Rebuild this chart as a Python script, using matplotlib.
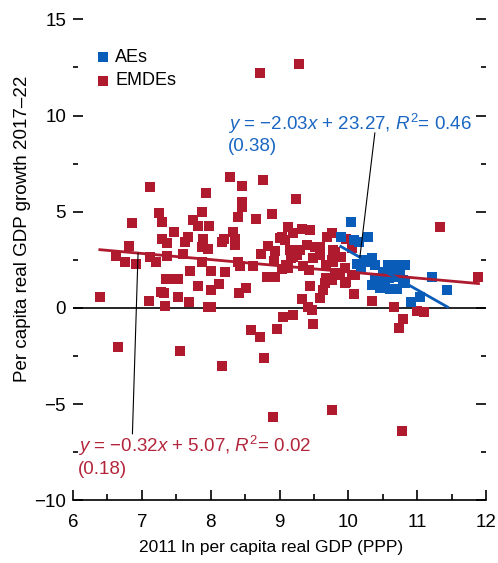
import numpy as np
import matplotlib
matplotlib.use("Agg")
import matplotlib.pyplot as plt

plt.rcParams["font.family"] = ["Liberation Sans", "DejaVu Sans"]
plt.rcParams["mathtext.fontset"] = "custom"
plt.rcParams["mathtext.rm"] = "Liberation Sans"
plt.rcParams["mathtext.it"] = "Liberation Sans:italic"

# AEs: 2011 ln per capita GDP, growth 2017-22
ae_x = [10.04, 9.89, 10.08, 10.15, 10.29, 11.22, 11.44, 10.91, 11.04, 10.19,
        10.26, 10.35, 10.39, 10.34, 10.39, 10.48, 10.58, 10.70, 10.82, 10.59,
        10.70, 10.80, 10.53, 10.60, 10.70, 10.82, 10.51, 10.63, 10.75, 10.22,
        10.46, 10.12]
ae_y = [4.49, 3.71, 3.54, 3.45, 3.66, 1.63, 0.94, 0.33, 0.59, 2.06,
        2.41, 2.58, 2.24, 1.20, 1.54, 1.11, 2.24, 2.24, 2.24, 1.54,
        1.63, 1.46, 1.37, 0.97, 0.97, 1.28, 1.89, 1.89, 1.89, 2.50,
        1.02, 2.30]

# EMDEs
em_x = [9.28, 8.71, 7.12, 7.93, 8.28, 8.46, 8.76, 9.24, 8.46, 8.45,
        8.40, 8.66, 8.89, 7.25, 7.29, 6.85, 7.46, 7.74, 7.81, 7.87,
        7.97, 7.29, 7.37, 7.62, 7.67, 7.89, 7.87, 7.96, 8.16, 8.20,
        8.33, 8.35, 8.35, 6.81, 6.63, 6.76, 6.92, 7.12, 7.21, 7.36,
        7.60, 7.87, 7.70, 8.01, 8.21, 8.39, 8.43, 8.62, 8.73, 8.83,
        8.93, 8.92, 8.82, 8.93, 9.00, 7.35, 7.43, 7.52, 7.81, 8.12,
        8.01, 8.51, 8.41, 7.28, 7.32, 6.39, 7.10, 7.33, 7.52, 7.68,
        7.96, 8.00, 9.05, 8.58, 8.71, 8.96, 6.65, 7.55, 8.77, 8.17,
        8.90, 9.76, 10.78, 10.73, 11.33, 11.89, 10.99, 11.10, 10.67, 10.79,
        10.34, 10.08, 9.44, 9.32, 9.59, 9.42, 9.47, 9.19, 9.48, 9.63,
        9.66, 9.68, 9.95, 9.12, 9.03, 9.20, 9.33, 9.44, 9.08, 9.40,
        9.51, 9.59, 9.69, 9.76, 9.15, 9.30, 9.78, 9.03, 9.13, 9.17,
        9.25, 9.34, 9.43, 9.49, 9.59, 9.80, 9.78, 9.95, 9.97, 10.05,
        10.06, 9.97, 9.90, 9.76, 9.68, 9.80, 9.88, 10.09, 9.76, 9.20,
        9.10]
em_y = [12.69, 12.20, 6.26, 5.98, 6.78, 6.31, 6.66, 5.64, 5.48, 5.22,
        4.75, 4.64, 4.87, 4.92, 4.49, 4.40, 3.97, 4.58, 4.28, 4.98,
        4.28, 3.57, 3.36, 3.43, 3.66, 3.59, 3.14, 3.05, 3.42, 3.57,
        3.92, 3.57, 3.28, 3.24, 2.72, 2.36, 2.29, 2.62, 2.36, 2.72,
        2.79, 2.36, 1.94, 1.92, 1.89, 2.36, 2.18, 2.18, 2.81, 3.22,
        2.98, 2.46, 1.63, 1.63, 3.62, 1.49, 1.51, 1.49, 1.14, 1.25,
        0.94, 1.06, 0.80, 0.85, 0.76, 0.59, 0.38, 0.12, 0.59, 0.33,
        0.04, 0.07, -0.48, -1.14, -1.49, -1.09, -2.01, -2.22, -2.60, -3.00,
        -5.65, -5.30, -6.38, -1.02, 4.18, 1.63, -0.14, -0.19, 0.07, -0.57,
        0.38, 0.73, 1.14, 0.48, 0.50, 0.07, -0.10, -0.38, -0.82, 0.94,
        1.28, 1.54, 1.28, 4.23, 3.66, 3.88, 4.09, 4.06, 3.54, 3.28,
        3.19, 3.19, 3.71, 3.88, 3.02, 3.02, 3.02, 2.01, 2.06, 2.58,
        2.76, 2.18, 1.98, 2.58, 2.76, 2.93, 2.41, 2.06, 1.37, 1.72,
        3.10, 3.57, 2.67, 2.50, 2.24, 1.80, 1.72, 1.72, 1.46, 2.67,
        2.24]

# fitted lines
ae_slope, ae_icpt = -2.03, 23.27
em_slope, em_icpt = -0.32, 5.07

red = "#AF1A2F"
blue = "#0A5CB9"
red_txt = "#B3253B"
blue_txt = "#1A66C2"

fig, ax = plt.subplots(figsize=(4.98, 5.63), dpi=100)
fig.subplots_adjust(left=0.1466, right=0.976, bottom=0.1114, top=0.9657)

ax.axhline(0, color="black", lw=1.2, zorder=1)

ax.scatter(em_x, em_y, marker="s", s=52, color=red, linewidths=0, zorder=2, label="EMDEs")
ax.scatter(ae_x, ae_y, marker="s", s=52, color=blue, linewidths=0, zorder=3, label="AEs")

xe = np.array([min(em_x), max(em_x)])
ax.plot(xe, em_slope * xe + em_icpt, color=red, lw=2, zorder=4)
xa = np.array([min(ae_x), max(ae_x)])
ax.plot(xa, ae_slope * xa + ae_icpt, color=blue, lw=2, zorder=5)

# connectors
ax.annotate("", xy=(10.167, ae_slope * 10.167 + ae_icpt), xytext=(10.385, 9.1),
            arrowprops=dict(arrowstyle="-", color="black", lw=0.8, shrinkA=0, shrinkB=0), zorder=6)
ax.annotate("", xy=(6.945, em_slope * 6.945 + em_icpt), xytext=(6.863, -6.55),
            arrowprops=dict(arrowstyle="-", color="black", lw=0.8, shrinkA=0, shrinkB=0), zorder=6)

fs = 13
afs = 13.5
ax.text(8.25, 9.55, "$y$ = \u22122.03$x$ + 23.27, $R^2$= 0.46", color=blue_txt, fontsize=afs, va="center")
ax.text(8.25, 8.4, "(0.38)", color=blue_txt, fontsize=afs, va="center")
ax.text(6.07, -7.2, "$y$ = \u22120.32$x$ + 5.07, $R^2$= 0.02", color=red_txt, fontsize=afs, va="center")
ax.text(6.07, -8.4, "(0.18)", color=red_txt, fontsize=afs, va="center")

ax.set_xlim(6, 12)
ax.set_ylim(-10, 15)
ax.set_xticks(range(6, 13))
ax.set_xticks(np.arange(6.5, 12, 1), minor=True)
ax.set_yticks(range(-10, 16, 5))
ax.set_yticks(np.arange(-7.5, 15, 5), minor=True)

for s in ["left", "right", "top"]:
    ax.spines[s].set_visible(False)
ax.spines["bottom"].set_linewidth(1.2)

ax.tick_params(axis="x", which="major", direction="in", length=7, width=1.2, labelsize=13.5, pad=10)
ax.tick_params(axis="x", which="minor", direction="in", length=4, width=1.2)
ax.tick_params(axis="y", which="major", direction="in", length=7, width=1.2, labelsize=13.5,
               pad=5, right=True)
ax.tick_params(axis="y", which="minor", direction="in", length=3.5, width=1.2, right=True)
ax.set_yticklabels(["\u221210", "\u22125", "0", "5", "10", "15"])

ax.set_xlabel("2011 ln per capita real GDP (PPP)", fontsize=12.5)
ax.xaxis.set_label_coords(0.48, -0.083)
ax.set_ylabel("Per capita real GDP growth 2017\u201322", fontsize=13.5)
ax.yaxis.set_label_coords(-0.102, 0.565)

h, l = ax.get_legend_handles_labels()
ax.legend(h[::-1], l[::-1], loc="upper left", bbox_to_anchor=(0.037, 0.957), frameon=False,
          fontsize=fs, handlelength=0.6, handletextpad=0.4, labelspacing=0.35, borderpad=0)

fig.savefig("out.png", dpi=100)
